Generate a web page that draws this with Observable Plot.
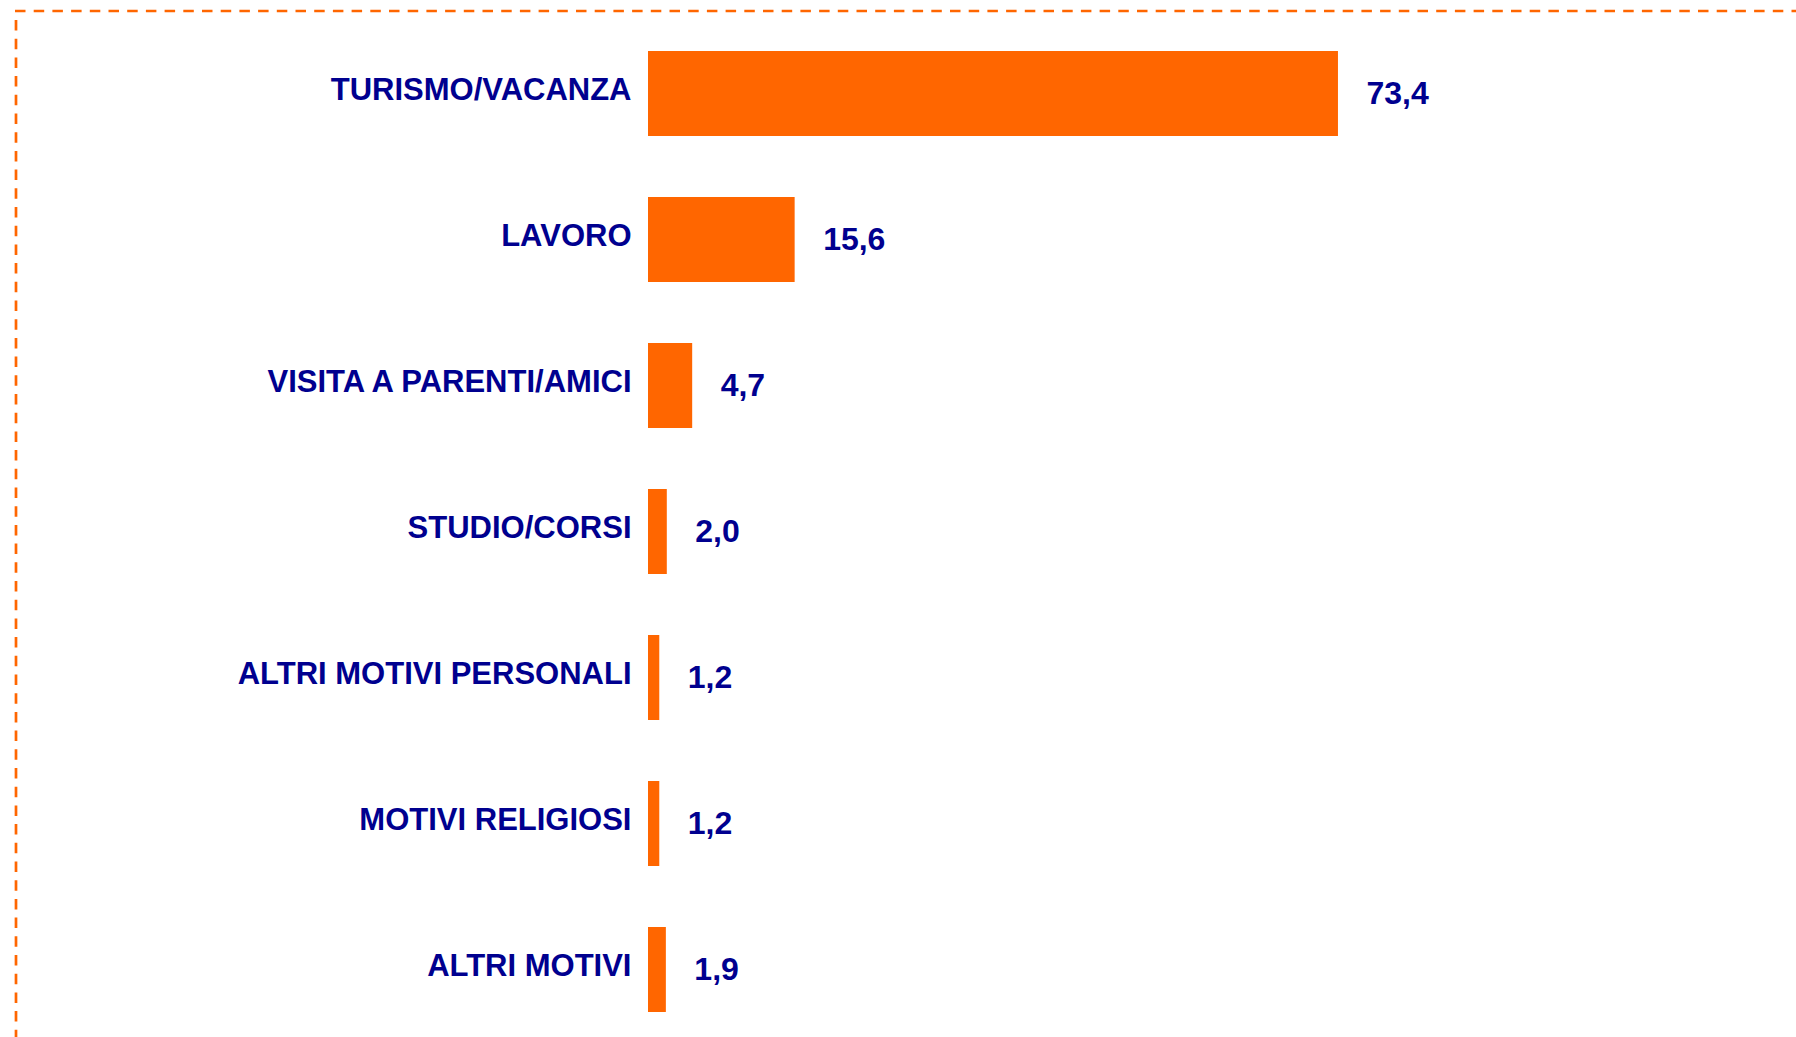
<!DOCTYPE html>
<html>
<head>
<meta charset="utf-8">
<script src="https://cdn.jsdelivr.net/npm/d3@7"></script>
<script src="https://cdn.jsdelivr.net/npm/@observablehq/plot@0.6"></script>
<style>
  html, body { margin: 0; padding: 0; background: #ffffff; }
  #wrap { position: relative; width: 1796px; height: 1037px; overflow: hidden; }
  #border { position: absolute; left: 0; top: 0; pointer-events: none; }
</style>
</head>
<body>
<div id="wrap">
  <div id="chart"></div>
  <svg id="border" width="1796" height="1037">
    <line x1="15" y1="11" x2="1796" y2="11" stroke="#FF6600" stroke-width="2.7" stroke-dasharray="10.5 8.2"/>
    <line x1="16" y1="20" x2="16" y2="1037" stroke="#FF6600" stroke-width="2.7" stroke-dasharray="10.5 8.2"/>
  </svg>
</div>
<script>
const categories = [
  "TURISMO/VACANZA",
  "LAVORO",
  "VISITA A PARENTI/AMICI",
  "STUDIO/CORSI",
  "ALTRI MOTIVI PERSONALI",
  "MOTIVI RELIGIOSI",
  "ALTRI MOTIVI"
];
const values = [73.4, 15.6, 4.7, 2.0, 1.2, 1.2, 1.9];

const data = categories.map((c, i) => ({label: c, value: values[i]}));
const fmt = v => d3.format(".1f")(v).replace(".", ",");

const navy = "#00008f";
const orange = "#FF6600";

const chart = Plot.plot({
  width: 1796,
  height: 1037,
  marginLeft: 648,
  marginRight: 208,
  marginTop: 49,
  marginBottom: 23,
  style: {
    fontFamily: "'Liberation Sans', Arial, sans-serif",
    fontWeight: "bold",
    color: navy,
    background: "transparent"
  },
  x: {domain: [0, 100], axis: null},
  y: {type: "band", domain: categories, paddingInner: 0.42, paddingOuter: 0, label: null},
  marks: [
    Plot.barX(data, {x: "value", y: "label", fill: orange}),
    Plot.axisY({tickSize: 0, tickPadding: 17, fontSize: 31, dy: -4, label: null, fill: navy}),
    Plot.text(data, {
      x: "value", y: "label", text: d => fmt(d.value),
      textAnchor: "start", dx: 28, fontSize: 32, fontWeight: "bold", fill: navy
    })
  ]
});
document.getElementById("chart").appendChild(chart);
</script>
</body>
</html>
